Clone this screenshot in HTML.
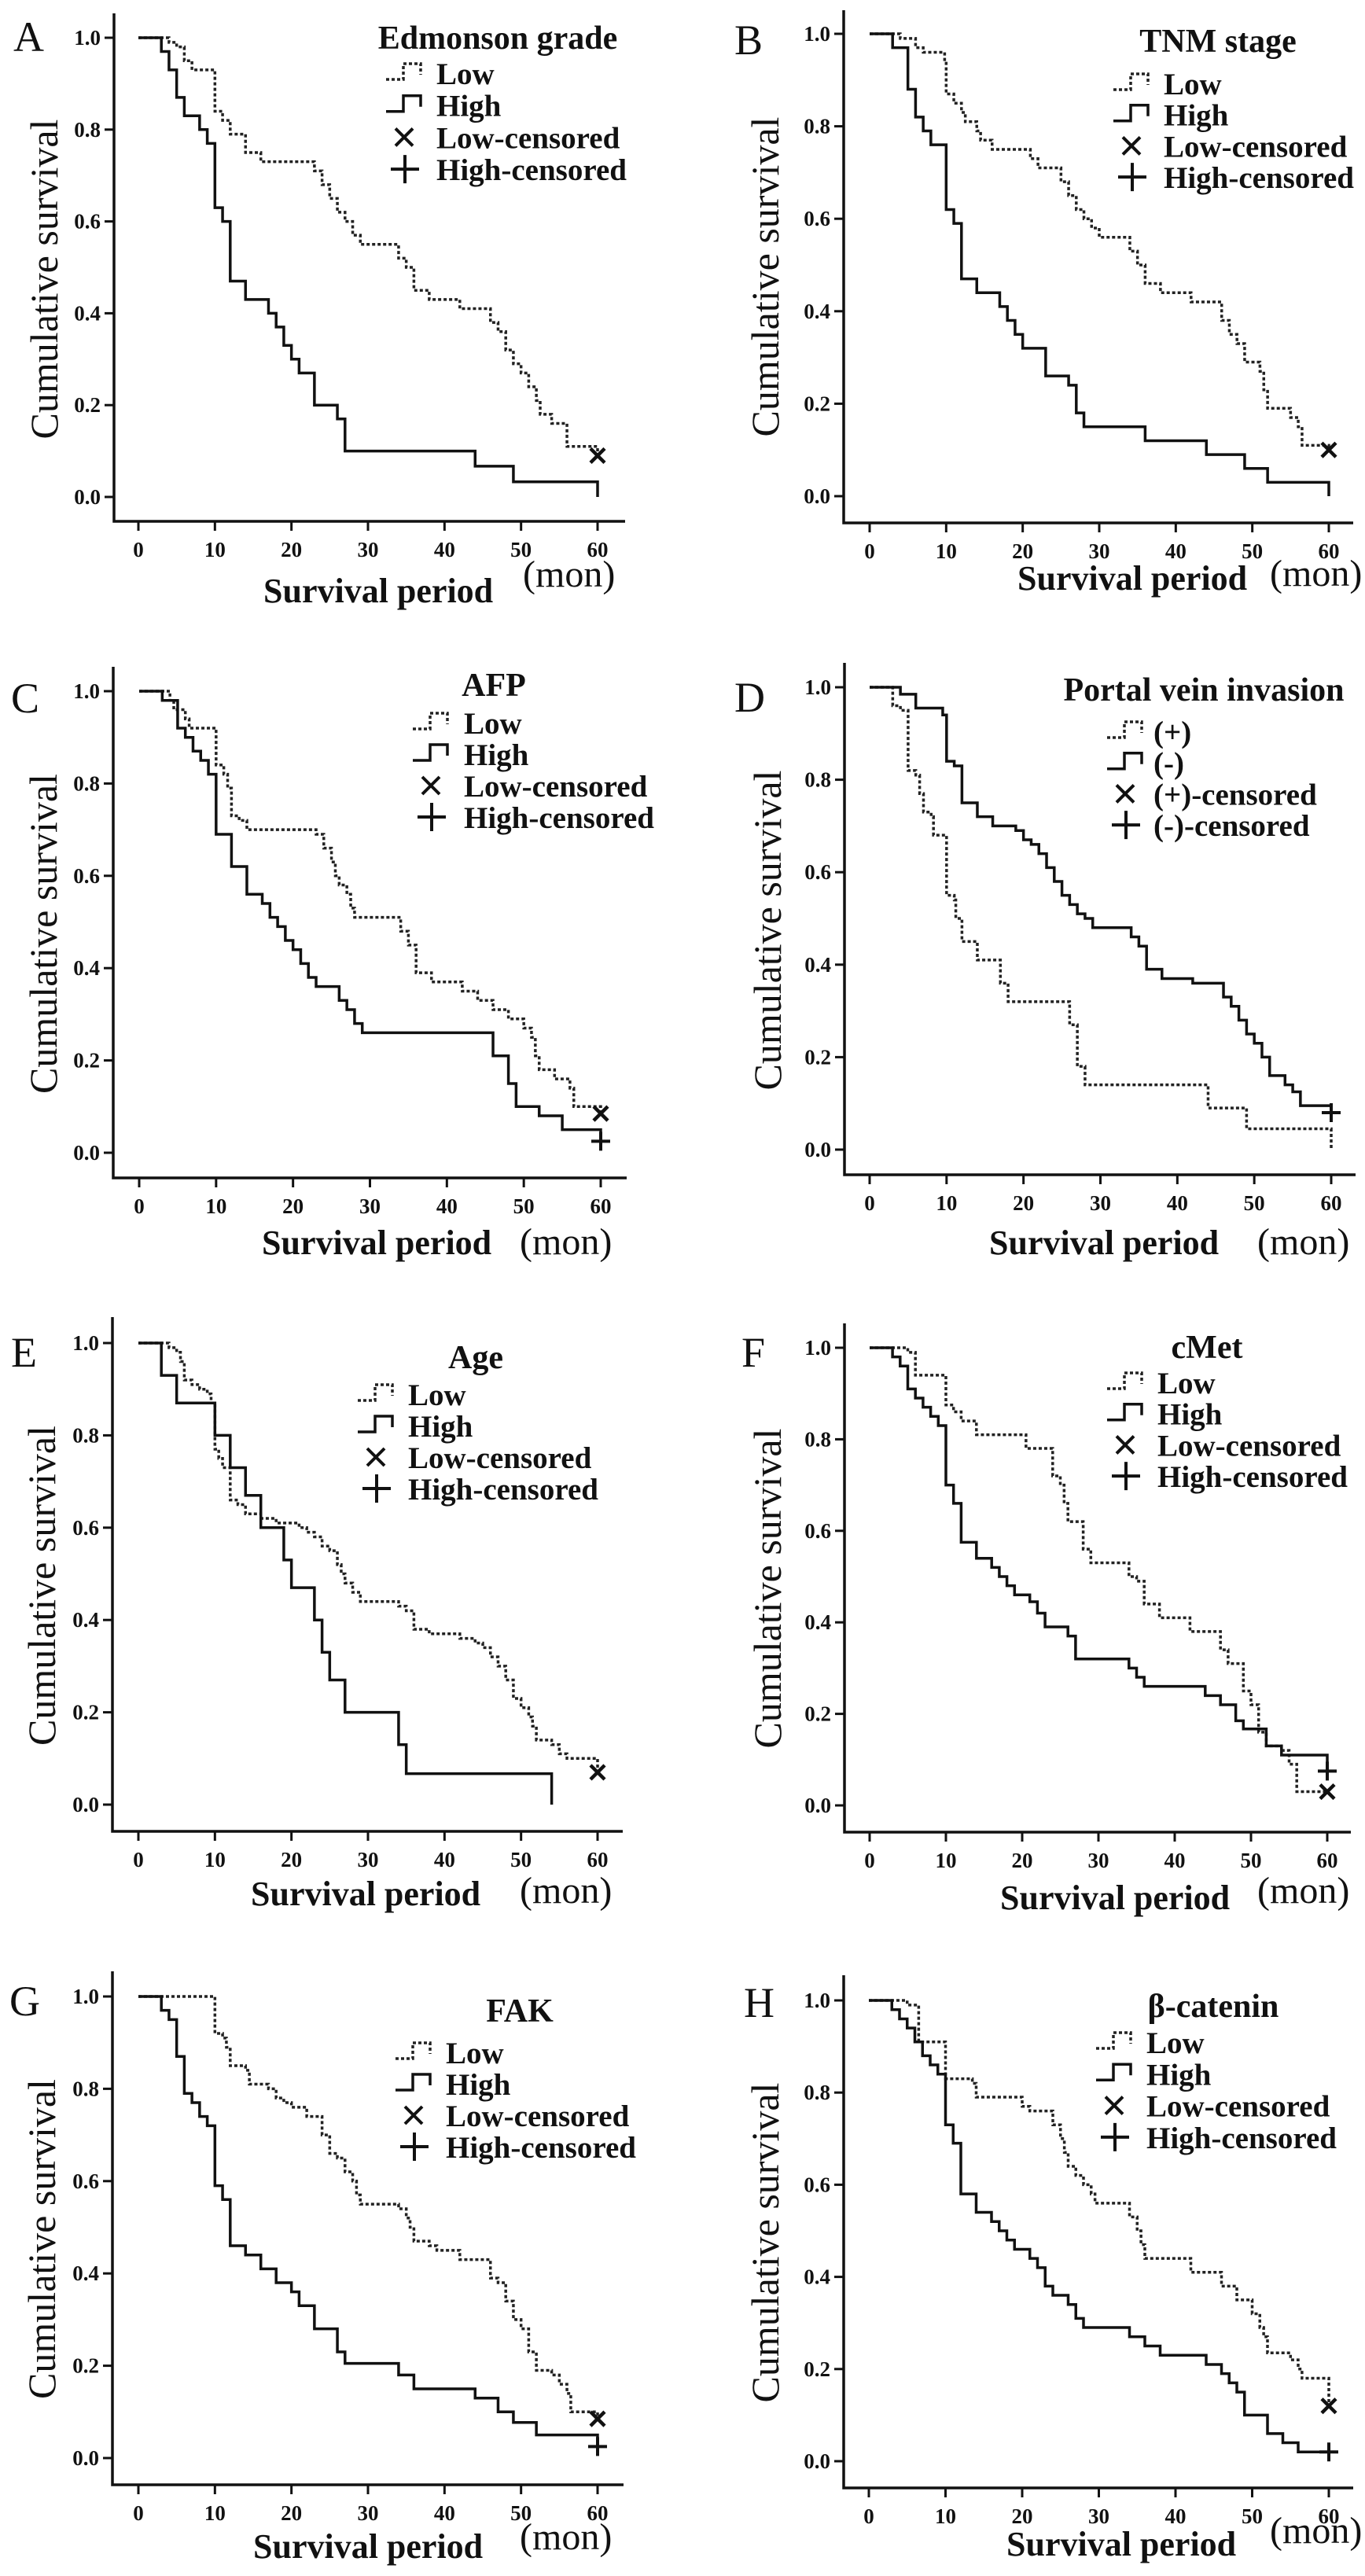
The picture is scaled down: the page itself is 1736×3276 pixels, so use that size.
<!DOCTYPE html>
<html><head><meta charset="utf-8"><style>
html,body{margin:0;padding:0;background:#fff;}
svg{display:block;}
text{font-family:"Liberation Serif",serif;fill:#111;}
.b{font-weight:bold;}
</style></head><body>
<svg id="fig" width="1736" height="3276" viewBox="0 0 1736 3276" xmlns="http://www.w3.org/2000/svg"></svg>
<script>
// ---- data (time in months, cumulative survival) ----
const ticksX=[0,10,20,30,40,50,60];
const ticksY=[0,0.2,0.4,0.6,0.8,1.0];
const tickLabelsY=["0.0","0.2","0.4","0.6","0.8","1.0"];

const A_lowT=[4,5,6,7,10,11,12,14,16,23,24,25,26,27,28,29,34,35,36,38,42,46,47,48,49,50,51,52,52.5,54,56];
const A_lowS=[0.99,0.98,0.95,0.93,0.84,0.82,0.79,0.75,0.73,0.71,0.68,0.65,0.62,0.60,0.57,0.55,0.52,0.50,0.45,0.43,0.41,0.38,0.36,0.32,0.29,0.27,0.24,0.21,0.18,0.16,0.11];
const A_lowCens=[60,0.09];
const A_highT=[3,4,5,6,8,9,10,11,12,14,17,18,19,20,21,23,26,27,44,49,60];
const A_highS=[0.97,0.93,0.87,0.83,0.80,0.77,0.63,0.60,0.47,0.43,0.40,0.37,0.33,0.30,0.27,0.20,0.17,0.10,0.067,0.033,0];
const A_highCens=null;

const B_lowT=[4,6,7,9.8,10,11,12,12.5,14,14.5,16,21,22,25,26,27,28,29,30,34,35,36,38,42,46,47,48,49,51,51.5,52,55,56,56.5];
const B_lowS=[0.99,0.97,0.96,0.94,0.87,0.85,0.83,0.81,0.79,0.77,0.75,0.73,0.71,0.68,0.65,0.62,0.60,0.58,0.56,0.53,0.50,0.46,0.44,0.42,0.38,0.35,0.33,0.29,0.27,0.23,0.19,0.17,0.15,0.11];
const B_lowCens=[60,0.10];
const B_highT=[3,5,6,7,8,10,11,12,14,17,18,19,20,23,26,27,28,36,44,49,52,60];
const B_highS=[0.97,0.88,0.82,0.79,0.76,0.62,0.59,0.47,0.44,0.41,0.38,0.35,0.32,0.26,0.24,0.18,0.15,0.12,0.09,0.06,0.03,0];
const B_highCens=null;

const C_lowT=[4,4.5,6,6.5,10,11,11.5,12,13,14,23,24,25,25.5,26,27,27.5,28,34,35,36,38,42,44,46,48,50,51,51.5,52,54,56,56.5];
const C_lowS=[0.98,0.96,0.94,0.92,0.84,0.82,0.79,0.73,0.72,0.70,0.69,0.66,0.63,0.60,0.58,0.56,0.53,0.51,0.48,0.45,0.39,0.37,0.35,0.33,0.31,0.29,0.27,0.25,0.21,0.18,0.16,0.14,0.10];
const C_lowCens=[60,0.085];
const C_highT=[3,5,6,7,8,9,10,12,14,16,17,18,19,20,21,22,23,26,27,28,29,46,48,49,52,55];
const C_highS=[0.98,0.92,0.90,0.87,0.85,0.82,0.69,0.62,0.56,0.54,0.51,0.49,0.46,0.44,0.41,0.38,0.36,0.33,0.31,0.28,0.26,0.21,0.15,0.10,0.08,0.05];
const C_highCens=[60,0.025];

const D_posT=[3,4,5,6,6.5,7,8,8.3,10,11,11.2,12,14,17,18,26,27,28,44,49,60];
const D_posS=[0.96,0.95,0.82,0.81,0.77,0.73,0.72,0.68,0.55,0.54,0.50,0.45,0.41,0.36,0.32,0.27,0.18,0.14,0.09,0.045,0];
const D_posCens=null;
const D_negT=[4,6,9.5,10,11,12,14,16,19,20,21,22,23,24,25,26,27,28,29,34,35,36,38,42,46,47,48,49,50,51,52,54,55,56];
const D_negS=[0.985,0.955,0.94,0.84,0.83,0.75,0.72,0.70,0.69,0.67,0.66,0.64,0.61,0.58,0.55,0.53,0.51,0.50,0.48,0.46,0.44,0.39,0.37,0.36,0.33,0.31,0.28,0.25,0.23,0.20,0.16,0.14,0.125,0.095];
const D_negCens=[60,0.08];

const E_lowT=[4,5,5.5,6,7,8,9,9.5,10,10.5,11,12,13,14,16,18,21,22,23,24,25,26,26.5,27,28,29,34,35,36,38,42,44,45,46,47,48,49,50,51,51.5,52,54,55,56];
const E_lowS=[0.99,0.98,0.96,0.92,0.91,0.90,0.89,0.87,0.77,0.75,0.73,0.66,0.65,0.63,0.62,0.61,0.60,0.59,0.58,0.56,0.55,0.52,0.50,0.48,0.46,0.44,0.43,0.42,0.38,0.37,0.36,0.35,0.34,0.32,0.30,0.27,0.23,0.21,0.19,0.17,0.14,0.13,0.11,0.10];
const E_lowCens=[60,0.07];
const E_highT=[3,5,10,12,14,16,19,20,23,24,25,27,34,35,54];
const E_highS=[0.93,0.87,0.80,0.73,0.67,0.60,0.53,0.47,0.40,0.33,0.27,0.20,0.13,0.067,0];
const E_highCens=null;

const F_lowT=[5,6,10,11,12,14,20.5,24,25,25.5,26,28,29,34,35,36,38,42,46,47,49,50,51,52,54,55,56];
const F_lowS=[0.99,0.94,0.875,0.86,0.84,0.81,0.78,0.72,0.70,0.66,0.62,0.56,0.53,0.50,0.49,0.44,0.41,0.38,0.34,0.31,0.25,0.22,0.16,0.13,0.12,0.09,0.03];
const F_lowCens=[60,0.03];
const F_highT=[3,4,5,6,7,8,9,10,11,12,14,16,17,18,19,21,22,23,26,27,34,35,36,44,46,48,49,52,54];
const F_highS=[0.98,0.96,0.91,0.89,0.87,0.85,0.83,0.70,0.66,0.575,0.54,0.52,0.50,0.48,0.46,0.445,0.42,0.39,0.37,0.32,0.30,0.28,0.26,0.24,0.22,0.185,0.167,0.13,0.11];
const F_highCens=[60,0.075];

const G_lowT=[10,11,11.5,12,14,14.5,17,18,19,20,22,24,25,26,27,28,28.5,29,34,35,35.5,36,38,39,42,46,47,48,49,50,51,52,54,55,56,56.5];
const G_lowS=[0.92,0.91,0.89,0.85,0.84,0.81,0.80,0.78,0.77,0.76,0.74,0.70,0.66,0.65,0.62,0.60,0.57,0.55,0.54,0.52,0.50,0.47,0.46,0.45,0.43,0.39,0.38,0.34,0.30,0.28,0.23,0.19,0.18,0.16,0.14,0.10];
const G_lowCens=[60,0.085];
const G_highT=[3,4,5,6,7,8,9,10,11,12,14,16,18,20,21,23,26,27,34,36,44,47,49,52];
const G_highS=[0.97,0.95,0.87,0.79,0.77,0.74,0.72,0.59,0.56,0.46,0.44,0.41,0.38,0.36,0.33,0.28,0.23,0.205,0.18,0.15,0.13,0.10,0.077,0.05];
const G_highCens=[60,0.025];

const H_lowT=[5,6.5,10,13.5,14,20,21,24,25,25.5,26,27,28,29,29.5,34,35,35.5,36,42,46,48,50,51,51.5,52,55,56,56.5];
const H_lowS=[0.99,0.91,0.83,0.82,0.79,0.77,0.76,0.73,0.70,0.67,0.64,0.62,0.60,0.58,0.56,0.53,0.50,0.47,0.44,0.41,0.38,0.35,0.32,0.29,0.27,0.235,0.22,0.20,0.18];
const H_lowCens=[60,0.12];
const H_highT=[3,4,5,6,7,8,9,10,11,12,14,16,17,18,19,21,22,23,24,26,27,28,34,36,38,44,46,47,48,49,52,54,56];
const H_highS=[0.98,0.96,0.94,0.91,0.88,0.86,0.84,0.73,0.69,0.58,0.54,0.52,0.50,0.48,0.46,0.44,0.42,0.38,0.36,0.34,0.31,0.29,0.27,0.25,0.23,0.21,0.19,0.17,0.15,0.10,0.06,0.04,0.02];
const H_highCens=[60,0.02];

const legendStd=["Low","High","Low-censored","High-censored"];
const legendPV=["(+)","(-)","(+)-censored","(-)-censored"];

// ---- layout ----
const panels=[
 {id:"a",L:"A",lx:17,lb:65,ax:145,at:17,ab:663,ar:795,x0:176,x60:760,y1:48,y0:632,yt:56,title:"Edmonson grade",tcx:633,tb:62,sym:491,tx:555,e0:107,de:40.7,spx:335,spb:766,mx:665,mb:746,
  dT:A_lowT,dS:A_lowS,dC:A_lowCens,sT:A_highT,sS:A_highS,sC:A_highCens,leg:legendStd},
 {id:"b",L:"B",lx:934,lb:69,ax:1073,at:13,ab:665,ar:1721,x0:1106,x60:1690,y1:43,y0:631,yt:973,title:"TNM stage",tcx:1549,tb:66,sym:1416,tx:1480,e0:120,de:39.7,spx:1294,spb:750,mx:1615,mb:745,
  dT:B_lowT,dS:B_lowS,dC:B_lowCens,sT:B_highT,sS:B_highS,sC:B_highCens,leg:legendStd},
 {id:"c",L:"C",lx:14,lb:906,ax:144,at:848,ab:1498,ar:797,x0:177,x60:764,y1:879,y0:1466,yt:55,title:"AFP",tcx:628,tb:885,sym:525,tx:590,e0:933,de:40,spx:333,spb:1595,mx:661,mb:1595,
  dT:C_lowT,dS:C_lowS,dC:C_lowCens,sT:C_highT,sS:C_highS,sC:C_highCens,leg:legendStd},
 {id:"d",L:"D",lx:934,lb:905,ax:1074,at:843,ab:1494,ar:1724,x0:1106,x60:1693,y1:874,y0:1462,yt:976,title:"Portal vein invasion",tcx:1531,tb:891,sym:1408,tx:1467,e0:944,de:39.7,spx:1258,spb:1595,mx:1599,mb:1595,
  dT:D_posT,dS:D_posS,dC:D_posCens,sT:D_negT,sS:D_negS,sC:D_negCens,leg:legendPV},
 {id:"e",L:"E",lx:14,lb:1738,ax:143,at:1675,ab:2329,ar:792,x0:176,x60:760,y1:1708,y0:2295,yt:53,title:"Age",tcx:605,tb:1740,sym:455,tx:519,e0:1787,de:40,spx:319,spb:2423,mx:661,mb:2420,
  dT:E_lowT,dS:E_lowS,dC:E_lowCens,sT:E_highT,sS:E_highS,sC:E_highCens,leg:legendStd},
 {id:"f",L:"F",lx:943,lb:1738,ax:1074,at:1683,ab:2330,ar:1718,x0:1106,x60:1688,y1:1714,y0:2296,yt:976,title:"cMet",tcx:1535,tb:1727,sym:1408,tx:1472,e0:1772,de:39.7,spx:1272,spb:2428,mx:1599,mb:2420,
  dT:F_lowT,dS:F_lowS,dC:F_lowCens,sT:F_highT,sS:F_highS,sC:F_highCens,leg:legendStd},
 {id:"g",L:"G",lx:12,lb:2563,ax:143,at:2507,ab:3160,ar:793,x0:176,x60:760,y1:2539,y0:3126,yt:53,title:"FAK",tcx:661,tb:2571,sym:503,tx:567,e0:2624,de:40,spx:322,spb:3253,mx:661,mb:3242,
  dT:G_lowT,dS:G_lowS,dC:G_lowCens,sT:G_highT,sS:G_highS,sC:G_highCens,leg:legendStd},
 {id:"h",L:"H",lx:946,lb:2565,ax:1073,at:2512,ab:3164,ar:1721,x0:1105,x60:1690,y1:2544,y0:3130,yt:973,title:"β-catenin",tcx:1543,tb:2565,sym:1394,tx:1458,e0:2611,de:40.3,spx:1280,spb:3250,mx:1615,mb:3234,
  dT:H_lowT,dS:H_lowS,dC:H_lowCens,sT:H_highT,sS:H_highS,sC:H_highCens,leg:legendStd}
];

const NS="http://www.w3.org/2000/svg";
const svg=document.getElementById("fig");
function mk(tag,attrs,parent,txt){const e=document.createElementNS(NS,tag);for(const k in attrs)e.setAttribute(k,attrs[k]);if(txt!==undefined)e.textContent=txt;parent.appendChild(e);return e;}

function stepPath(T,S,xs,ys){
  let d="M"+xs(0)+","+ys(1);let cur=1;
  for(let i=0;i<T.length;i++){d+=" H"+xs(T[i])+" V"+ys(S[i]);cur=S[i];}
  return {d:d,last:T.length?T[T.length-1]:0,cur:cur};
}

panels.forEach(p=>{
  const xs=t=>p.x0+(p.x60-p.x0)*t/60;
  const ys=s=>p.y0-(p.y0-p.y1)*s;
  const g=mk("g",{},svg);
  
  

  const letter=mk("text",{x:p.lx,y:p.lb,"font-size":54},g,p.L);
  
  

  const axes=mk("path",{d:"M"+p.ax+","+p.at+" V"+p.ab+" H"+p.ar,fill:"none",stroke:"#111","stroke-width":3.5},g);
  
  

  ticksX.forEach(v=>{
    const tk=mk("line",{x1:xs(v),x2:xs(v),y1:p.ab,y2:p.ab+12,stroke:"#111","stroke-width":3},g);
    
    
    const tl=mk("text",{x:xs(v),y:p.ab+45,"font-size":27,"text-anchor":"middle",class:"b"},g,String(v));
    
    
  });
  ticksY.forEach((v,i)=>{
    const tk=mk("line",{x1:p.ax-12,x2:p.ax,y1:ys(v),y2:ys(v),stroke:"#111","stroke-width":3},g);
    
    
    const tl=mk("text",{x:p.ax-17,y:ys(v)+9,"font-size":27,"text-anchor":"end",class:"b"},g,tickLabelsY[i]);
    
    
  });

  const cy=(p.y0+p.y1)/2+15;
  const yt=mk("text",{x:p.yt,y:cy,"font-size":50,"text-anchor":"middle",transform:"rotate(-90 "+p.yt+" "+cy+") translate(0 17)"},g,"Cumulative survival");
  
  
  const xt=mk("text",{x:p.spx,y:p.spb,"font-size":44,class:"b"},g,"Survival period");
  
  
  const mo=mk("text",{x:p.mx,y:p.mb,"font-size":48},g,"(mon)");
  
  

  // curves
  const dp=stepPath(p.dT,p.dS,xs,ys);
  let dd=dp.d; if(dp.last<60) dd+=" H"+xs(60); if(p.dC) dd+=" V"+ys(p.dC[1]);
  const dl=mk("path",{d:dd,fill:"none",stroke:"#222","stroke-width":3.5,"stroke-dasharray":"4 3"},g);
  
  
  const sp=stepPath(p.sT,p.sS,xs,ys);
  let sd=sp.d; if(sp.last<60 && sp.cur>0) sd+=" H"+xs(60); if(p.sC) sd+=" V"+ys(p.sC[1]);
  const sl=mk("path",{d:sd,fill:"none",stroke:"#111","stroke-width":3.5},g);
  
  
  if(p.dC){
    const cx=xs(p.dC[0]),cyy=ys(p.dC[1]),r=9;
    const m=mk("path",{d:`M${cx-r},${cyy-r} L${cx+r},${cyy+r} M${cx+r},${cyy-r} L${cx-r},${cyy+r}`,stroke:"#111","stroke-width":4.5,fill:"none"},g);
    
    
  }
  if(p.sC){
    const cx=xs(p.sC[0]),cyy=ys(p.sC[1]),r=12;
    const m=mk("path",{d:`M${cx-r},${cyy} H${cx+r} M${cx},${cyy-r} V${cyy+r}`,stroke:"#111","stroke-width":4,fill:"none"},g);
    
    
  }

  // legend
  const lt=mk("text",{x:p.tcx,y:p.tb,"font-size":42,"text-anchor":"middle",class:"b"},g,p.title);
  
  
  p.leg.forEach((lab,i)=>{
    const yb=p.e0+p.de*i;
    const s=p.sym;
    let sym;
    if(i===0) sym=mk("path",{d:`M${s},${yb-6} h22 v-20 h22 v14`,fill:"none",stroke:"#222","stroke-width":3.5,"stroke-dasharray":"4 3"},g);
    else if(i===1) sym=mk("path",{d:`M${s},${yb-6} h22 v-20 h22 v14`,fill:"none",stroke:"#111","stroke-width":3.5},g);
    else if(i===2) sym=mk("path",{d:`M${s+12},${yb-25} L${s+34},${yb-3} M${s+34},${yb-25} L${s+12},${yb-3}`,fill:"none",stroke:"#111","stroke-width":4},g);
    else sym=mk("path",{d:`M${s+6},${yb-14} H${s+42} M${s+24},${yb-32} V${yb+4}`,fill:"none",stroke:"#111","stroke-width":4},g);
    
    
    const t=mk("text",{x:p.tx,y:yb,"font-size":39,class:"b"},g,lab);
    
    
  });
});
</script>
</body></html>
